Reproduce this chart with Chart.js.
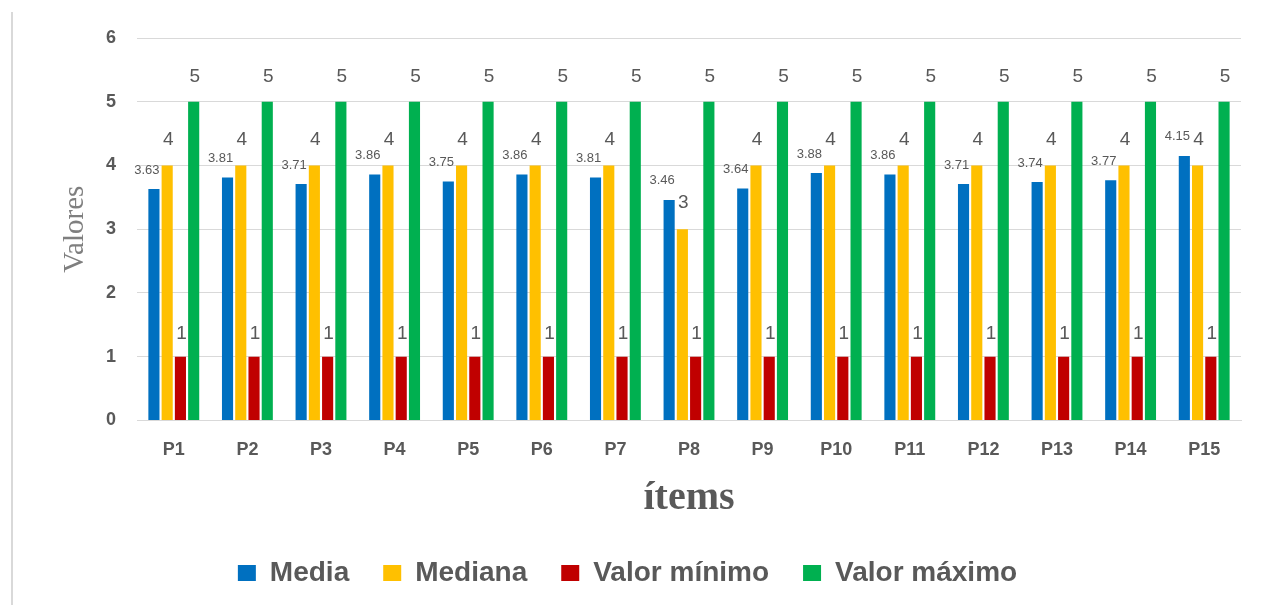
<!DOCTYPE html>
<html>
<head>
<meta charset="utf-8">
<script src="https://cdn.jsdelivr.net/npm/chart.js@4.4.0/dist/chart.umd.min.js"></script>
<style>
  html, body { margin: 0; padding: 0; background: #fff; }
  #wrap { position: relative; width: 1262px; height: 605px; }
  #frame { position: absolute; left: 11px; top: 12px; width: 2px; height: 593px; background: #d9d9d9; }
  canvas { position: absolute; left: 0; top: 0; }
</style>
</head>
<body>
<div id="wrap">
  <div id="frame"></div>
  <canvas id="c" width="1262" height="605"></canvas>
</div>
<script>
const categories = ['P1','P2','P3','P4','P5','P6','P7','P8','P9','P10','P11','P12','P13','P14','P15'];
const media   = [3.63, 3.81, 3.71, 3.86, 3.75, 3.86, 3.81, 3.46, 3.64, 3.88, 3.86, 3.71, 3.74, 3.77, 4.15];
const mediana = [4, 4, 4, 4, 4, 4, 4, 3, 4, 4, 4, 4, 4, 4, 4];
const minimo  = [1, 1, 1, 1, 1, 1, 1, 1, 1, 1, 1, 1, 1, 1, 1];
const maximo  = [5, 5, 5, 5, 5, 5, 5, 5, 5, 5, 5, 5, 5, 5, 5];
const yTicks  = [0, 1, 2, 3, 4, 5, 6];
const seriesNames = ['Media', 'Mediana', 'Valor mínimo', 'Valor máximo'];

const labelStyles = [
  { font: '13px "Liberation Sans", Arial, sans-serif', dx: -7, dy: 19 },
  { font: '19px "Liberation Sans", Arial, sans-serif', dx: 1, dy: 26 },
  { font: '19px "Liberation Sans", Arial, sans-serif', dx: 1, dy: 23 },
  { font: '19px "Liberation Sans", Arial, sans-serif', dx: 1, dy: 25 }
];

const valueLabels = {
  id: 'valueLabels',
  afterDatasetsDraw(chart) {
    const ctx = chart.ctx;
    ctx.save();
    ctx.fillStyle = '#595959';
    ctx.textAlign = 'center';
    ctx.textBaseline = 'middle';
    chart.data.datasets.forEach((ds, i) => {
      const meta = chart.getDatasetMeta(i);
      const st = labelStyles[i];
      ctx.font = st.font;
      meta.data.forEach((bar, j) => {
        ctx.fillText(String(ds.data[j]), bar.x + st.dx, bar.y - st.dy);
      });
    });
    ctx.restore();
  }
};

const common = { categoryPercentage: 0.72, barPercentage: 0.84 };

new Chart(document.getElementById('c'), {
  type: 'bar',
  data: {
    labels: categories,
    datasets: [
      Object.assign({ label: seriesNames[0], data: media,   backgroundColor: '#0070C0' }, common),
      Object.assign({ label: seriesNames[1], data: mediana, backgroundColor: '#FFC000' }, common),
      Object.assign({ label: seriesNames[2], data: minimo,  backgroundColor: '#C00000' }, common),
      Object.assign({ label: seriesNames[3], data: maximo,  backgroundColor: '#00B050' }, common)
    ]
  },
  options: {
    responsive: false,
    animation: false,
    layout: { padding: { left: 14, right: 21, top: 38, bottom: 8 } },
    plugins: {
      tooltip: { enabled: false },
      legend: {
        position: 'bottom',
        labels: {
          boxWidth: 18, boxHeight: 16, padding: 34,
          color: '#595959',
          font: { family: '"Liberation Sans", Arial, sans-serif', size: 28, weight: 'bold' }
        }
      }
    },
    scales: {
      x: {
        grid: { display: false },
        border: { display: true, color: '#d9d9d9' },
        ticks: { color: '#595959', padding: 11, font: { family: '"Liberation Sans", Arial, sans-serif', size: 18, weight: 'bold' } },
        title: { display: true, text: 'ítems', color: '#595959', padding: { top: 3, bottom: 2 },
                 font: { family: '"Liberation Serif", "Times New Roman", serif', size: 40, weight: 'bold' } }
      },
      y: {
        min: 0, max: 6,
        afterBuildTicks(scale) { scale.ticks = yTicks.map(v => ({ value: v })); },
        afterFit(scale) { scale.width = 123; },
        grid: { color: '#d9d9d9', drawTicks: false },
        border: { display: false },
        ticks: { color: '#595959', padding: 21, font: { family: '"Liberation Sans", Arial, sans-serif', size: 18, weight: 'bold' } },
        title: { display: true, text: 'Valores', color: '#7f7f7f', padding: { top: 44 },
                 font: { family: '"Liberation Serif", "Times New Roman", serif', size: 29 } }
      }
    }
  },
  plugins: [valueLabels]
});
</script>
</body>
</html>
